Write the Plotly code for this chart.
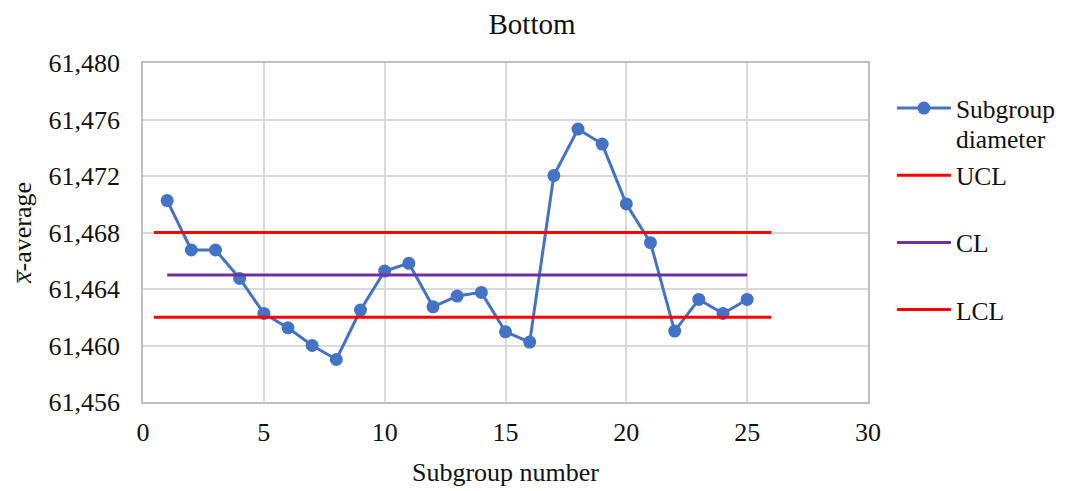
import plotly.graph_objects as go

subgroups = list(range(1, 26))
diameter = [61.47026, 61.46676, 61.46676, 61.46475, 61.46227, 61.46125, 61.46000, 61.45901,
            61.46251, 61.46527, 61.46582, 61.46274, 61.46350, 61.46376, 61.46097, 61.46024,
            61.47203, 61.47532, 61.47426, 61.47002, 61.46728, 61.46102, 61.46326, 61.46227,
            61.46326]
ucl_x = [0.45, 26]
ucl_y = [61.468, 61.468]
cl_x = [1, 25]
cl_y = [61.465, 61.465]
lcl_x = [0.45, 26]
lcl_y = [61.462, 61.462]

font_family = "Liberation Serif, Times New Roman, serif"

fig = go.Figure()
fig.add_trace(go.Scatter(x=subgroups, y=diameter, mode="lines+markers",
                         name="Subgroup", legendgroup="a",
                         line=dict(color="#4472C4", width=3),
                         marker=dict(color="#4472C4", size=13)))
fig.add_trace(go.Scatter(x=ucl_x, y=ucl_y, mode="lines", name="UCL", legendgroup="b",
                         line=dict(color="#FF0000", width=3)))
fig.add_trace(go.Scatter(x=cl_x, y=cl_y, mode="lines", name="CL", legendgroup="c",
                         line=dict(color="#7030A0", width=3)))
fig.add_trace(go.Scatter(x=lcl_x, y=lcl_y, mode="lines", name="LCL", legendgroup="d",
                         line=dict(color="#FF0000", width=3)))

fig.add_annotation(text="diameter", xref="paper", yref="paper", x=1.1187, y=0.773,
                   xanchor="left", yanchor="middle", showarrow=False,
                   font=dict(size=25.5, family=font_family, color="#111111"))

fig.update_layout(
    width=1066, height=491,
    margin=dict(l=135, r=206, t=55, b=97),
    paper_bgcolor="white", plot_bgcolor="white",
    separators=",.",
    font=dict(family=font_family, size=26, color="#111111"),
    title=dict(text="Bottom", x=0.4916, xanchor="center", y=0.988, yanchor="top",
               pad=dict(t=0, b=0),
               font=dict(size=29, family=font_family, color="#111111")),
    legend=dict(x=1.033, y=0.935, xanchor="left", yanchor="top", valign="middle",
                tracegroupgap=31, font=dict(size=25.5, family=font_family),
                itemwidth=54),
    showlegend=True,
)
fig.update_xaxes(range=[0, 30], dtick=5, tick0=0, showgrid=True, gridcolor="#D9D9D9",
                 gridwidth=1.5, showline=True, linecolor="#BFBFBF", linewidth=1.5, mirror=True,
                 zeroline=False, ticks="", ticklabelstandoff=6,
                 title=dict(text="Subgroup number", font=dict(size=26), standoff=17))
fig.update_yaxes(range=[61.456, 61.480], dtick=0.004, tick0=61.456, tickformat=".3f",
                 showgrid=True, gridcolor="#D9D9D9", gridwidth=1.5, showline=True,
                 linecolor="#BFBFBF", linewidth=1.5, mirror=True, zeroline=False, ticks="",
                 ticklabelstandoff=16,
                 title=dict(text="<i>x\u0305</i>-average", font=dict(size=26), standoff=11))

fig.write_html("out.html")
